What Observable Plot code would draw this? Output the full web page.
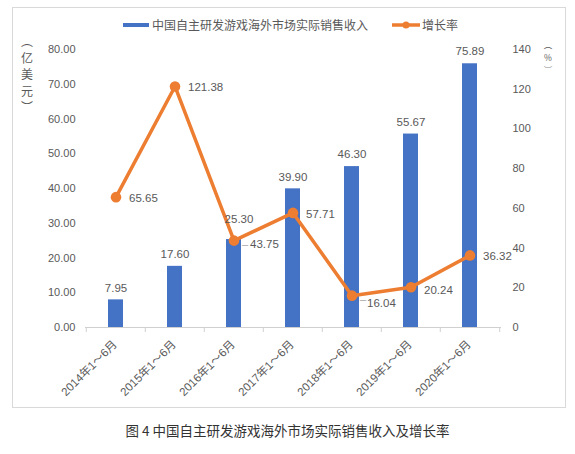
<!DOCTYPE html>
<html>
<head>
<meta charset="utf-8">
<script src="https://cdn.jsdelivr.net/npm/d3@7"></script>
<script src="https://cdn.jsdelivr.net/npm/@observablehq/plot@0.6"></script>
<style>
  body { margin: 0; background: #fff; width: 575px; height: 454px; position: relative; overflow: hidden; }
  #frame { position: absolute; left: 12px; top: 7px; width: 554px; height: 401px; border: 1px solid #d9d9d9; box-sizing: border-box; }
  #legend { position: absolute; top: 17px; left: 123px; display: flex; align-items: center; font: 12px/16px "Noto Sans CJK SC", sans-serif; color: #595959; white-space: nowrap; }
  .unit { position: absolute; font: 12px/16.5px "Noto Sans CJK SC", sans-serif; color: #595959; text-align: center; width: 16px; }
  #chart { position: absolute; left: 0; top: 40px; }
  #caption { position: absolute; top: 421px; left: 0; width: 575px; text-align: center; font: 13.5px/18px "Noto Sans CJK SC", sans-serif; color: #333; }
</style>
</head>
<body>
<div id="frame"></div>
<div id="legend"></div>
<div class="unit" id="unitL" style="left:19px;top:33px"></div>
<div class="unit" id="unitR" style="left:540px;top:38px;font-size:8.5px;line-height:12.5px"></div>
<div id="chart"></div>
<div id="caption"></div>
<script>
// ---- data ----
const categories = ["2014年1～6月", "2015年1～6月", "2016年1～6月", "2017年1～6月", "2018年1～6月", "2019年1～6月", "2020年1～6月"];
const revenue = [7.95, 17.60, 25.30, 39.90, 46.30, 55.67, 75.89];
const growth = [65.65, 121.38, 43.75, 57.71, 16.04, 20.24, 36.32];
const leftTicks = [0, 10, 20, 30, 40, 50, 60, 70, 80];
const rightTicks = [0, 20, 40, 60, 80, 100, 120, 140];
const seriesNames = ["中国自主研发游戏海外市场实际销售收入", "增长率"];
const leftUnit = ["︵", "亿", "美", "元", "︶"];
const rightUnit = ["︵", "%", "︶"];
const captionText = "图 4 中国自主研发游戏海外市场实际销售收入及增长率";

const BLUE = "#4472C4", ORANGE = "#ED7D31", GRAY = "#595959";
const leftMax = 80, rightMax = 140;
const k = leftMax / rightMax; // map right axis onto left scale

const rows = categories.map((c, i) => ({cat: c, rev: revenue[i], rate: growth[i]}));

// ---- HTML text ----
document.getElementById("legend").innerHTML =
  `<span style="display:inline-block;width:26px;height:4px;background:${BLUE};margin-right:3px"></span>${seriesNames[0]}` +
  `<svg width="28" height="10" style="margin-left:24px;margin-right:2px"><line x1="0" x2="28" y1="5" y2="5" stroke="${ORANGE}" stroke-width="3.5"/><circle cx="14" cy="5" r="3.5" fill="${ORANGE}"/></svg>${seriesNames[1]}`;
document.getElementById("unitL").innerHTML = leftUnit.join("<br>");
document.getElementById("unitR").innerHTML = rightUnit.join("<br>");
document.getElementById("caption").textContent = captionText;

const bw = (575 - 85 - 74) / categories.length;
const fmt2 = d => d.toFixed(2);

const chart = Plot.plot({
  width: 575,
  height: 366,
  marginLeft: 85,
  marginRight: 74,
  marginTop: 9,
  marginBottom: 79,
  style: {fontFamily: "'Liberation Sans', 'Noto Sans CJK SC', sans-serif", fontSize: "11px", color: GRAY, background: "transparent"},
  x: {type: "band", domain: categories, paddingInner: 0.74, paddingOuter: 0.37, axis: null},
  y: {domain: [0, leftMax], axis: null},
  marks: [
    Plot.axisY(leftTicks, {anchor: "left", tickSize: 0, tickPadding: 10, tickFormat: fmt2, label: null, fontSize: 11, fill: GRAY}),
    Plot.axisY(rightTicks.map(v => v * k), {anchor: "right", tickSize: 0, tickPadding: 11, tickFormat: d => String(Math.round(d / k)), label: null, fontSize: 11, fill: GRAY}),
    Plot.barY(rows, {x: "cat", y: "rev", fill: BLUE}),
    Plot.ruleY([0], {stroke: "#d0d0d0", strokeWidth: 1}),
    Plot.ruleX(rows, {x: "cat", y1: 0, y2: 0, dx: -bw / 2, insetBottom: -5, stroke: "#d0d0d0"}),
    Plot.ruleX(rows.slice(-1), {x: "cat", y1: 0, y2: 0, dx: bw / 2, insetBottom: -5, stroke: "#d0d0d0"}),
    Plot.line(rows, {x: "cat", y: d => d.rate * k, stroke: ORANGE, strokeWidth: 3.5, strokeLinejoin: "round"}),
    Plot.dot(rows, {x: "cat", y: d => d.rate * k, r: 5.3, fill: ORANGE, stroke: "none"}),
    // bar value labels
    Plot.text(rows, {filter: (d, i) => i !== 2, x: "cat", y: "rev", text: d => fmt2(d.rev), dy: -12, fontSize: 11.5, fill: GRAY}),
    Plot.text(rows, {filter: (d, i) => i === 2, x: "cat", y: "rev", text: d => fmt2(d.rev), dy: -20, dx: 5, fontSize: 11.5, fill: GRAY}),
    // growth labels
    Plot.text(rows, {filter: (d, i) => [0, 1, 3, 6].includes(i), x: "cat", y: d => d.rate * k, text: d => fmt2(d.rate), dx: 13, dy: 1, textAnchor: "start", fontSize: 11.5, fill: GRAY}),
    Plot.text(rows, {filter: (d, i) => i === 2, x: "cat", y: d => d.rate * k, text: d => fmt2(d.rate), dx: 16, dy: 4, textAnchor: "start", fontSize: 11.5, fill: GRAY}),
    Plot.text(rows, {filter: (d, i) => i === 4, x: "cat", y: d => d.rate * k, text: d => fmt2(d.rate), dx: 15, dy: 8, textAnchor: "start", fontSize: 11.5, fill: GRAY}),
    Plot.text(rows, {filter: (d, i) => i === 5, x: "cat", y: d => d.rate * k, text: d => fmt2(d.rate), dx: 13, dy: 3, textAnchor: "start", fontSize: 11.5, fill: GRAY}),
    // leader marks
    Plot.text(rows, {filter: (d, i) => i === 2 || i === 4, x: "cat", y: d => d.rate * k, text: () => "–", dx: 8, dy: 4, textAnchor: "start", fontSize: 11, fill: "#a6a6a6"}),
    // category labels
    Plot.text(rows, {x: "cat", frameAnchor: "bottom", text: "cat", rotate: -45, textAnchor: "end", lineAnchor: "middle", dx: -1, dy: 15, fontSize: 11.5, fill: GRAY})
  ]
});
document.getElementById("chart").appendChild(chart);
</script>
</body>
</html>
